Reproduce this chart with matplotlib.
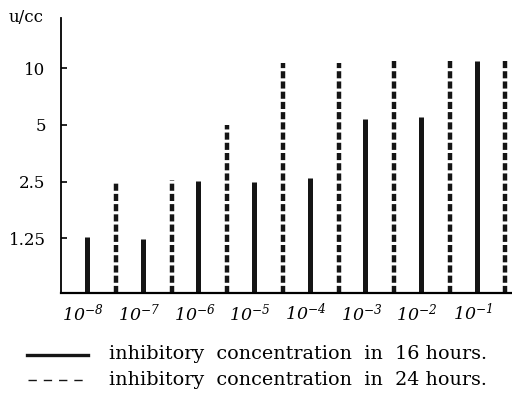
import matplotlib.pyplot as plt
from matplotlib.lines import Line2D
from matplotlib.ticker import FixedLocator, NullLocator

plt.rcParams['font.family'] = ['DejaVu Serif']
plt.rcParams['mathtext.fontset'] = 'custom'
plt.rcParams['mathtext.rm'] = 'DejaVu Serif:italic'
plt.rcParams['mathtext.it'] = 'DejaVu Serif:italic'

concentrations = [r'$\mathrm{10^{-8}}$', r'$\mathrm{10^{-7}}$', r'$\mathrm{10^{-6}}$', r'$\mathrm{10^{-5}}$',
                  r'$\mathrm{10^{-4}}$', r'$\mathrm{10^{-3}}$', r'$\mathrm{10^{-2}}$', r'$\mathrm{10^{-1}}$']
hours_16 = [1.27, 1.24, 2.52, 2.5, 2.62, 5.4, 5.5, 10.9]
hours_24 = [2.5, 2.55, 5.0, 10.6, 10.6, 10.9, 10.9, 10.9]
y_ticks = [1.25, 2.5, 5, 10]
y_labels = ['1.25', '2.5', '5', '10']

fig = plt.figure(figsize=(5.12, 3.94), dpi=100)
ax = fig.add_axes([0.119, 0.256, 0.89, 0.698])
ax.set_yscale('log', base=2)
ax.set_ylim(0.64, 18.4)
ax.set_xlim(-0.47, 7.72)

base = 0.64
for i in range(len(concentrations)):
    ax.plot([i, i], [base, hours_16[i]], color='#151515', lw=3.6,
            solid_capstyle='butt', clip_on=False)
    ax.plot([i + 0.52, i + 0.52], [base, hours_24[i]], color='#151515', lw=3.2,
            linestyle=(0, (1.6, 0.7)), dash_capstyle='butt', clip_on=False)

for s in ['top', 'right']:
    ax.spines[s].set_visible(False)
ax.spines['left'].set_linewidth(1.3)
ax.spines['bottom'].set_linewidth(1.6)

ax.yaxis.set_major_locator(FixedLocator(y_ticks))
ax.yaxis.set_minor_locator(NullLocator())
ax.set_yticklabels(y_labels, fontsize=12)
ax.tick_params(axis='y', direction='in', length=4, width=1.2, pad=11)

ax.set_xticks([i - 0.07 for i in range(len(concentrations))])
ax.set_xticklabels(concentrations, fontsize=12.5)
ax.tick_params(axis='x', length=0, pad=7)

fig.text(0.017, 0.955, 'u/cc', fontsize=12, va='center')

# legend drawn by hand below the axes
fig.add_artist(Line2D([0.053, 0.172], [0.099, 0.099], transform=fig.transFigure,
                      color='#151515', lw=2.4))
fig.add_artist(Line2D([0.055, 0.172], [0.036, 0.036], transform=fig.transFigure,
                      color='#151515', lw=1.0, linestyle=(0, (6, 5))))
fig.text(0.213, 0.101, 'inhibitory  concentration  in  16 hours.', fontsize=13.8, va='center')
fig.text(0.213, 0.036, 'inhibitory  concentration  in  24 hours.', fontsize=13.8, va='center')

fig.savefig('out.png', dpi=100)
